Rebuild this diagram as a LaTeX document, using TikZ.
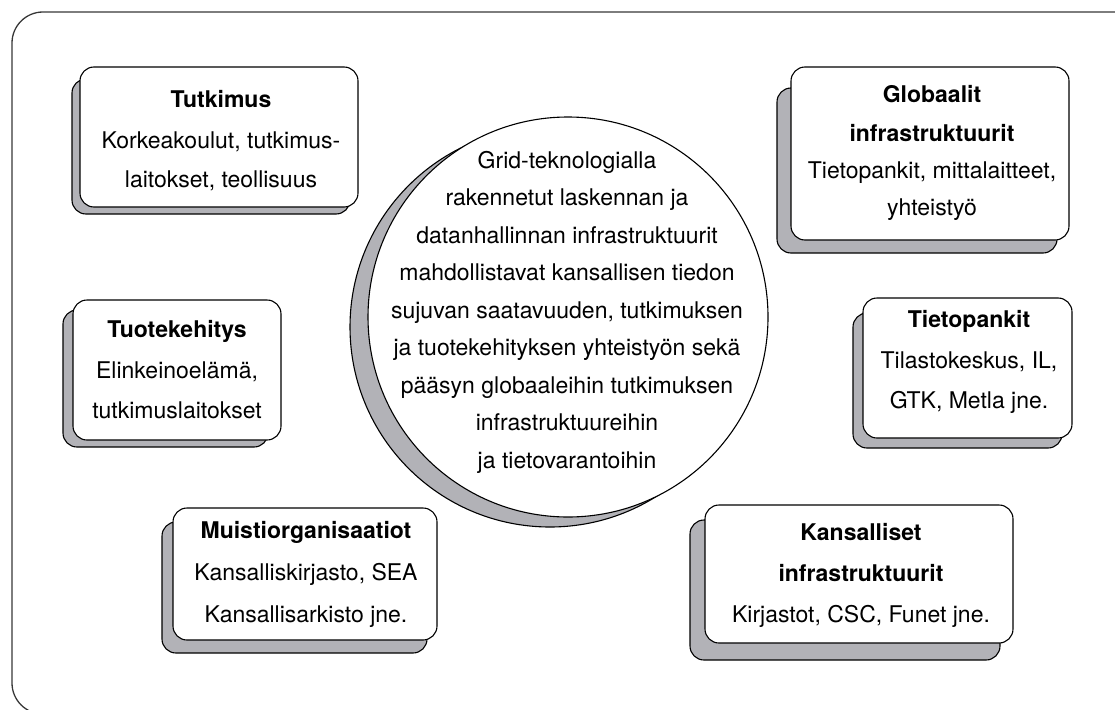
\documentclass[tikz,border=0pt]{standalone}
\usepackage{fontspec}
\setmainfont{TeX Gyre Heros}
\definecolor{shade}{RGB}{178,178,183}
\definecolor{framec}{RGB}{55,55,55}
\tikzset{
  frontbox/.style={draw=black, fill=white, line width=1.1pt, rounded corners=14pt, inner sep=0pt},
  shadowbox/.style={draw=black, fill=shade, line width=1.1pt, rounded corners=14pt, inner sep=0pt},
  ln/.style={anchor=base, inner sep=0pt, font=\fontsize{23}{28}\selectfont},
  hd/.style={anchor=base, inner sep=0pt, font=\fontsize{23}{28}\selectfont\bfseries},
  corecircle/.style={circle, draw=black, line width=1.1pt, inner sep=0pt, minimum size=400pt},
}
\begin{document}
\begin{tikzpicture}[x=1pt,y=-1pt]
\useasboundingbox (0,0) rectangle (1115,709);
% outer frame
\begin{scope}
\clip (0,0) rectangle (1115,709);
\coordinate (fa) at (1200,12);
\coordinate (fb) at (12,12);
\coordinate (fc) at (12,714);
\coordinate (fd) at (1200,714);
\draw[framec, line width=1.3pt, rounded corners=31pt] (fa) -- (fb) -- (fc) -- (fd);
\end{scope}

% centre circle
\node[corecircle, fill=shade] (coreshadow) at (550,327) {};
\node[corecircle, fill=white] (core) at (568,317) {};
\foreach \t [count=\i from 0] in {Grid-teknologialla, rakennetut laskennan ja, datanhallinnan infrastruktuurit, mahdollistavat kansallisen tiedon, {sujuvan saatavuuden, tutkimuksen}, ja tuotekehityksen yhteistyön sekä, pääsyn globaaleihin tutkimuksen, infrastruktuureihin, ja tietovarantoihin}
  \node[ln] (c\i) at (567,168+37.5*\i) {\t};

% Tutkimus
\node[shadowbox, minimum width=278pt, minimum height=135pt] (s1) at (211,146.5) {};
\node[frontbox, minimum width=278pt, minimum height=140pt] (b1) at (219,137) {};
\node[hd] (b1a) at (221,107) {Tutkimus};
\node[ln] (b1b) at (221,148) {Korkeakoulut, tutkimus-};
\node[ln] (b1c) at (221,187) {laitokset, teollisuus};

% Globaalit
\node[shadowbox, minimum width=280pt, minimum height=165pt] (s2) at (917,170.5) {};
\node[frontbox, minimum width=278pt, minimum height=173pt] (b2) at (930,153.5) {};
\node[hd] (b2a) at (932,102) {Globaalit};
\node[hd] (b2b) at (932,141) {infrastruktuurit};
\node[ln] (b2c) at (932,178) {Tietopankit, mittalaitteet,};
\node[ln] (b2d) at (932,215) {yhteistyö};

% Tuotekehitys
\node[shadowbox, minimum width=205pt, minimum height=137pt] (s3) at (165.5,378.5) {};
\node[frontbox, minimum width=208pt, minimum height=140pt] (b3) at (177,370) {};
\node[hd] (b3a) at (177,337) {Tuotekehitys};
\node[ln] (b3b) at (177,378) {Elinkeinoelämä,};
\node[ln] (b3c) at (177,418) {tutkimuslaitokset};

% Tietopankit
\node[shadowbox, minimum width=209pt, minimum height=135pt] (s4) at (957.5,380.5) {};
\node[frontbox, minimum width=209pt, minimum height=140pt] (b4) at (967.5,368) {};
\node[hd] (b4a) at (969,327) {Tietopankit};
\node[ln] (b4b) at (969,368) {Tilastokeskus, IL,};
\node[ln] (b4c) at (969,408) {GTK, Metla jne.};

% Muistiorganisaatiot
\node[shadowbox, minimum width=265pt, minimum height=131pt] (s5) at (294.5,587.5) {};
\node[frontbox, minimum width=264pt, minimum height=132pt] (b5) at (305,574) {};
\node[hd] (b5a) at (306,538) {Muistiorganisaatiot};
\node[ln] (b5b) at (306,580) {Kansalliskirjasto, SEA};
\node[ln] (b5c) at (306,622) {Kansallisarkisto jne.};

% Kansalliset
\node[shadowbox, minimum width=310pt, minimum height=140pt] (s6) at (845,590) {};
\node[frontbox, minimum width=308pt, minimum height=138pt] (b6) at (859,574) {};
\node[hd] (b6a) at (861,540) {Kansalliset};
\node[hd] (b6b) at (861,581) {infrastruktuurit};
\node[ln] (b6c) at (861,622) {Kirjastot, CSC, Funet jne.};
\end{tikzpicture}
\end{document}
